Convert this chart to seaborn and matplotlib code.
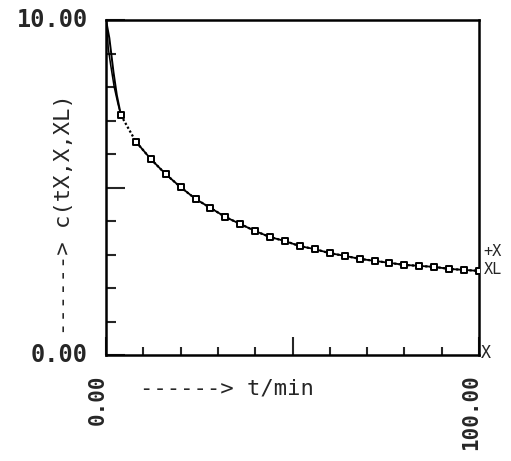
import numpy as np
import pandas as pd
import matplotlib
matplotlib.use("Agg")
import matplotlib.pyplot as plt
import matplotlib.transforms as mtransforms
import seaborn as sns

# data
t_markers = [4, 8, 12, 16, 20, 24, 28, 32, 36, 40, 44, 48, 52, 56, 60,
             64, 68, 72, 76, 80, 84, 88, 92, 96, 100]
c_tx = [7.16, 6.37, 5.85, 5.40, 5.01, 4.66, 4.39, 4.12, 3.91, 3.70, 3.52, 3.40,
        3.25, 3.16, 3.04, 2.96, 2.87, 2.81, 2.75, 2.69, 2.66, 2.63, 2.57, 2.54, 2.51]
t_start_x = [0, 0.9, 2.0, 2.9, 4]
c_start_x = [10.0, 9.46, 8.45, 7.76, 7.16]
t_start_xl = [0, 0.35, 0.6, 1.25, 2.2, 3.2, 4]
c_start_xl = [10.0, 9.65, 9.16, 8.66, 8.0, 7.5, 7.16]

df_tx = pd.DataFrame({"t": t_markers, "c": c_tx})
df_x = pd.DataFrame({"t": t_start_x + t_markers[1:], "c": c_start_x + c_tx[1:]})
df_xl = pd.DataFrame({"t": t_start_xl, "c": c_start_xl})

sns.set_style("ticks")
plt.rcParams["font.family"] = ["DejaVu Sans Mono", "DejaVu Sans"]

fig = plt.figure(figsize=(5.11, 4.61), dpi=100)
ax = fig.add_axes([106 / 511, 1 - 355 / 461, 373 / 511, 335 / 461])

# dotted tX curve
sns.lineplot(data=df_tx, x="t", y="c", ax=ax, color="black", linestyle=(0, (1, 1)),
             linewidth=1.6)
# solid X curve drawn on top, except the first interval
x_early = df_x[df_x.t <= 4]
x_late = df_x[df_x.t >= 8]
sns.lineplot(data=x_early, x="t", y="c", ax=ax, color="black", linewidth=1.4)
sns.lineplot(data=x_late, x="t", y="c", ax=ax, color="black", linewidth=1.3)
sns.lineplot(data=df_xl, x="t", y="c", ax=ax, color="black", linewidth=1.1)
sns.scatterplot(data=df_tx, x="t", y="c", ax=ax, marker="s", s=25, facecolor="white",
                edgecolor="black", linewidth=1.4, zorder=5)

ax.set_xlim(0, 100)
ax.set_ylim(0, 10)

for s in ax.spines.values():
    s.set_linewidth(1.8)
    s.set_color("black")

ax.set_xticks([0, 50, 100])
ax.set_xticklabels(["0.00", "", "100.00"], rotation=90, fontweight="bold", fontsize=15)
ax.set_xticks([10, 20, 30, 40, 60, 70, 80, 90], minor=True)
ax.set_yticks([0, 5, 10])
ax.set_yticklabels(["0.00", "", "10.00"], fontweight="bold", fontsize=17)
ax.set_yticks([1, 2, 3, 4, 6, 7, 8, 9], minor=True)

ax.tick_params(axis="x", which="major", direction="in", length=13, width=1.5, pad=14)
ax.tick_params(axis="x", which="minor", direction="in", length=6, width=1.5)
ax.tick_params(axis="y", which="major", direction="in", length=14, width=1.5, pad=13)
ax.tick_params(axis="y", which="minor", direction="in", length=7, width=1.5)

offset = mtransforms.ScaledTranslation(-8 / 100, 0, fig.dpi_scale_trans)
for lab in ax.get_xticklabels():
    lab.set_transform(lab.get_transform() + offset)
ax.get_yticklabels()[0].set_verticalalignment("center")
ax.get_yticklabels()[2].set_verticalalignment("center")

ax.set_xlabel("------> t/min", fontsize=16, ha="left", va="center")
ax.xaxis.set_label_coords(0.09, -0.1)
ax.set_ylabel("------> c(tX,X,XL)", fontsize=16, ha="center", va="center")
ax.yaxis.set_label_coords(-0.113, 0.42)

ax.text(1.012, 0.31, "+X", transform=ax.transAxes, fontsize=11, va="center", ha="left")
ax.text(1.012, 0.255, "XL", transform=ax.transAxes, fontsize=11, va="center", ha="left")
ax.text(1.005, 0.005, "X", transform=ax.transAxes, fontsize=12, va="center", ha="left")

fig.savefig("out.png", dpi=100)
